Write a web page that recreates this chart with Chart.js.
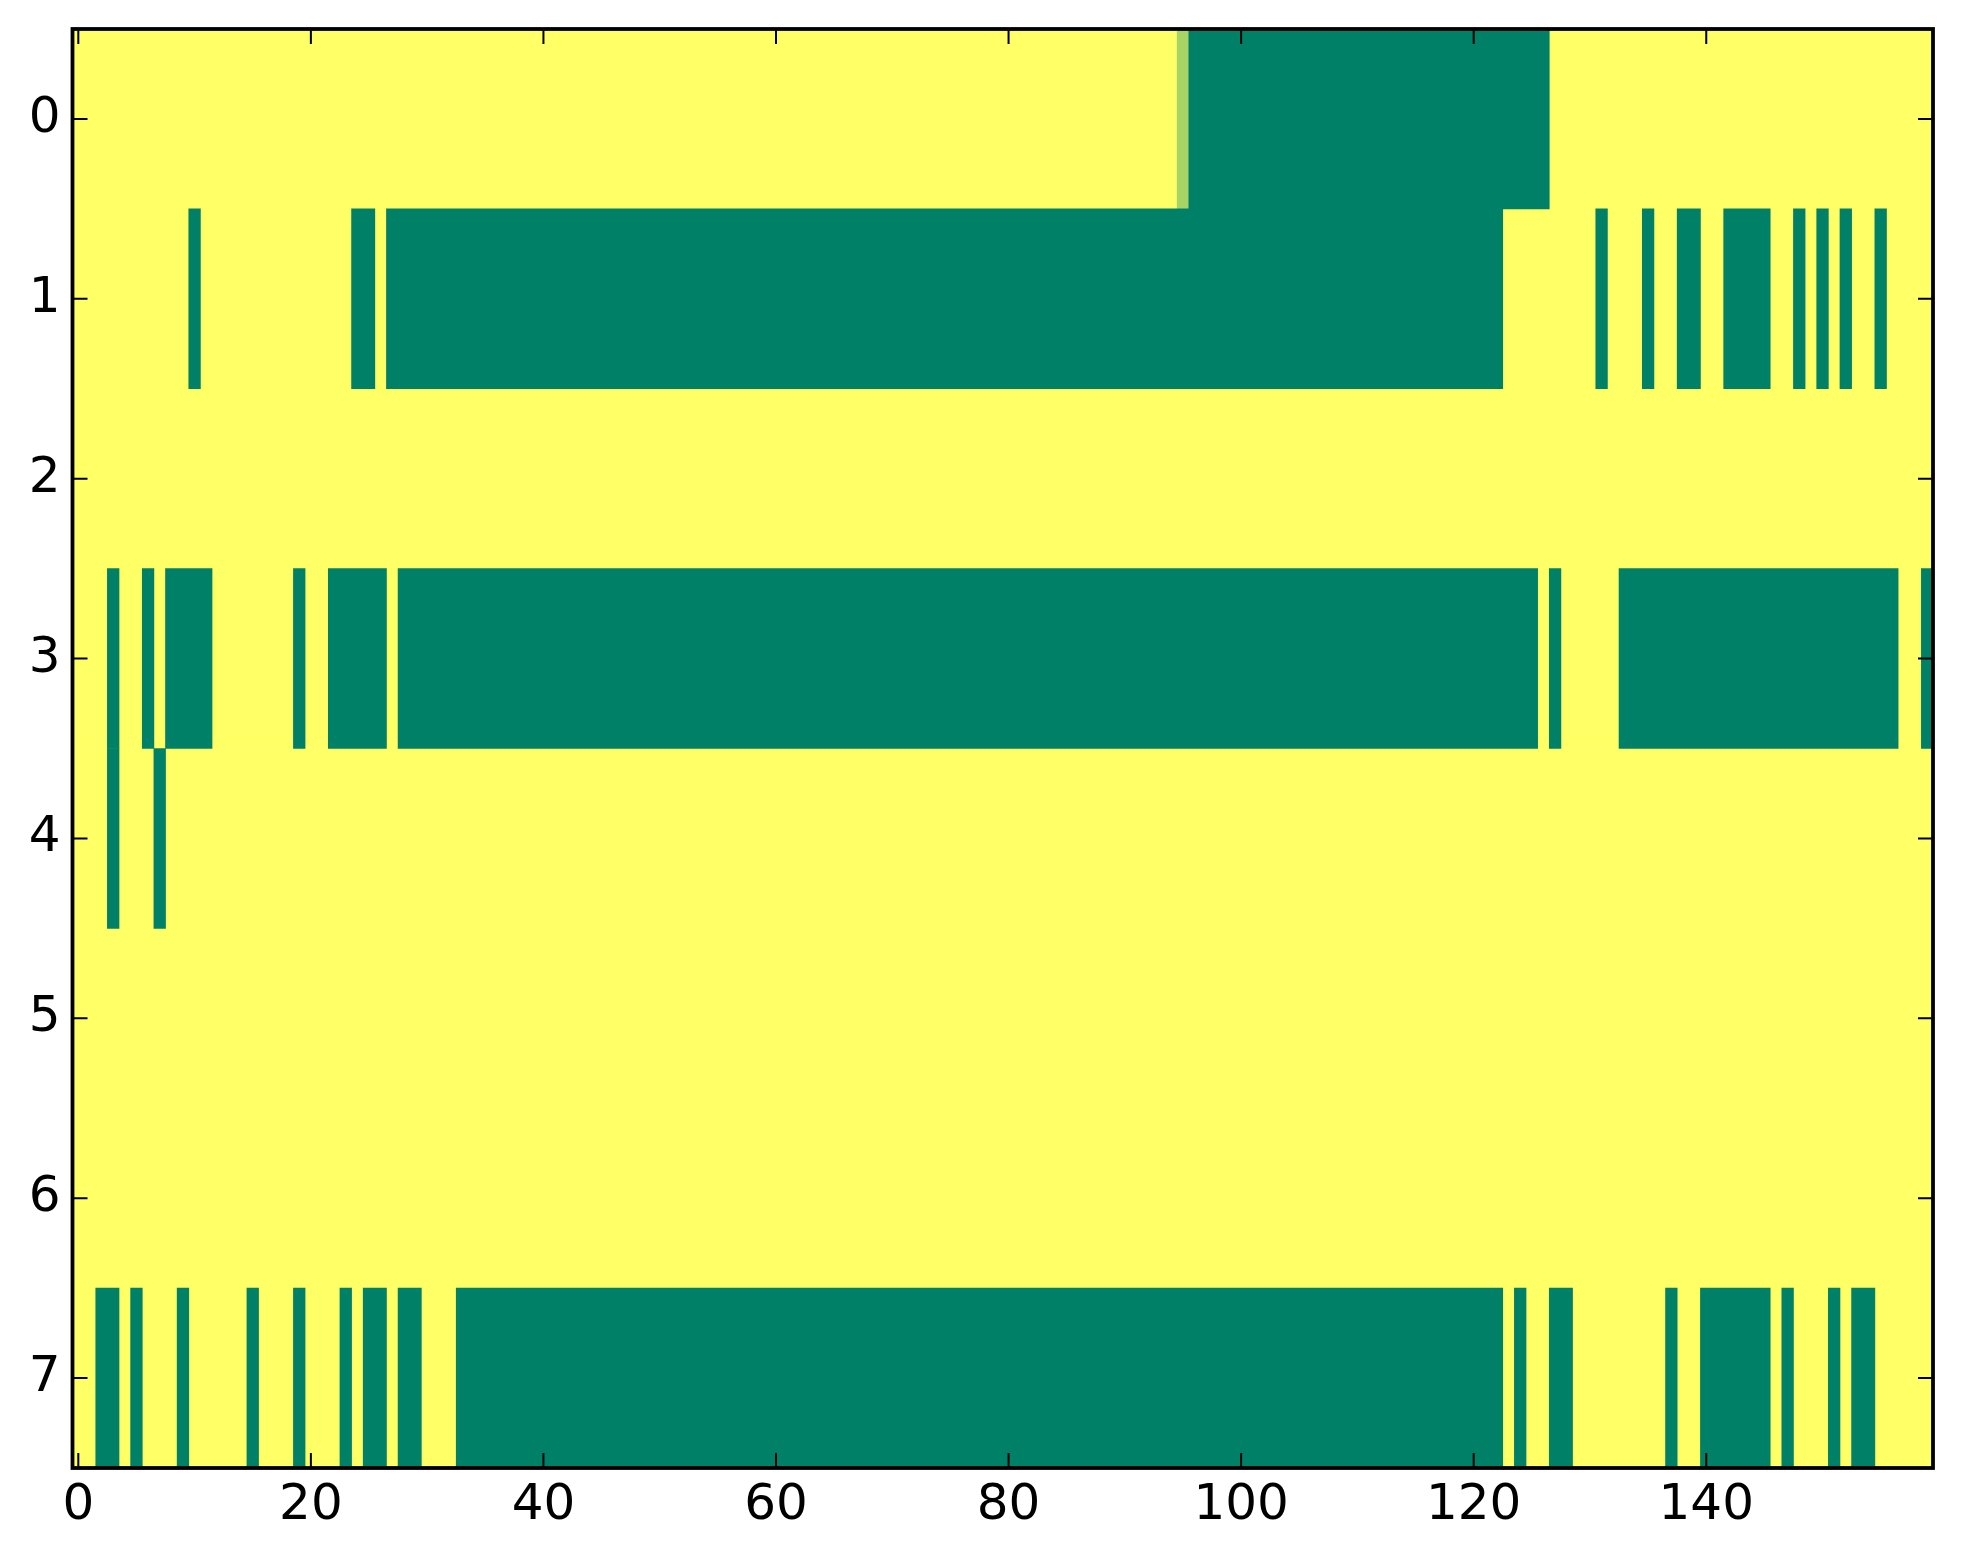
<!DOCTYPE html>
<html>
<head>
<meta charset="utf-8">
<script src="https://cdn.jsdelivr.net/npm/chart.js@4.4.1/dist/chart.umd.min.js"></script>
<style>
  html, body { margin: 0; padding: 0; background: #fff; }
  #wrap { width: 1963px; height: 1564px; }
</style>
</head>
<body>
<div id="wrap"><canvas id="myChart" width="1963" height="1564"></canvas></div>
<script>
// rows of the image and number of columns
const rowLabels = ['0', '1', '2', '3', '4', '5', '6', '7'];
const colCount = 160;
const xTicks = [0, 20, 40, 60, 80, 100, 120, 140];

// runs of low cells per row: [firstCol, lastCol, value]  (everything else = 1)
const row0Runs = [[95, 95, 0.66], [96, 126, 0]];
const row1Runs = [[10, 10, 0], [24, 25, 0], [27, 122, 0], [131, 131, 0], [135, 135, 0], [138, 139, 0], [142, 145, 0], [148, 148, 0], [150, 150, 0], [152, 152, 0], [155, 155, 0]];
const row2Runs = [];
const row3Runs = [[3, 3, 0], [6, 6, 0], [8, 11, 0], [19, 19, 0], [22, 26, 0], [28, 125, 0], [127, 127, 0], [133, 156, 0], [159, 159, 0]];
const row4Runs = [[3, 3, 0], [7, 7, 0]];
const row5Runs = [];
const row6Runs = [];
const row7Runs = [[2, 3, 0], [5, 5, 0], [9, 9, 0], [15, 15, 0], [19, 19, 0], [23, 23, 0], [25, 26, 0], [28, 29, 0], [33, 122, 0], [124, 124, 0], [127, 128, 0], [137, 137, 0], [140, 145, 0], [147, 147, 0], [151, 151, 0], [153, 154, 0]];

const allRuns = [row0Runs, row1Runs, row2Runs, row3Runs, row4Runs, row5Runs, row6Runs, row7Runs];

// matplotlib "summer" colormap
function summer(v) {
    var r = Math.round(255 * v);
    var g = Math.round(255 * (0.5 + 0.5 * v));
    return 'rgb(' + r + ',' + g + ',102)';
}

var baseData = rowLabels.map(function (lab) {
    return { y: lab, x: [-0.5, colCount - 0.5], v: 1 };
});

var runData = [];
allRuns.forEach(function (runs, i) {
    runs.forEach(function (r) {
        runData.push({ y: rowLabels[i], x: [r[0] - 0.5, r[1] + 0.5], v: r[2] });
    });
});

// inward ticks on all four sides + black frame
var frameTicks = {
    id: 'frameTicks',
    afterDraw: function (chart) {
        var c = chart.ctx, a = chart.chartArea;
        var xs = chart.scales.x, ys = chart.scales.y;
        var len = 15;
        c.save();
        c.strokeStyle = '#000';
        c.lineWidth = 2;
        c.beginPath();
        xTicks.forEach(function (t) {
            var px = xs.getPixelForValue(t);
            c.moveTo(px, a.bottom); c.lineTo(px, a.bottom - len);
            c.moveTo(px, a.top); c.lineTo(px, a.top + len);
        });
        rowLabels.forEach(function (lab, i) {
            var py = ys.getPixelForValue(i);
            c.moveTo(a.left, py); c.lineTo(a.left + len, py);
            c.moveTo(a.right, py); c.lineTo(a.right - len, py);
        });
        c.stroke();
        c.lineWidth = 3.8;
        c.strokeRect(a.left, a.top, a.right - a.left, a.bottom - a.top);
        c.restore();
    }
};

var ctx = document.getElementById('myChart');

var heatChart = new Chart(ctx, {
    type: 'bar',
    data: {
        labels: rowLabels,
        datasets: [{
            data: runData,
            backgroundColor: function (context) { return summer(context.raw.v); },
            grouped: false,
            order: 0,
            barPercentage: 1,
            categoryPercentage: 1,
            borderWidth: 0
        }, {
            data: baseData,
            backgroundColor: function (context) { return summer(context.raw.v); },
            grouped: false,
            order: 1,
            barPercentage: 1,
            categoryPercentage: 1,
            borderWidth: 0
        }]
    },
    options: {
        indexAxis: 'y',
        responsive: false,
        animation: false,
        devicePixelRatio: 1,
        layout: { padding: { left: 0, top: 29, right: 30, bottom: 0 } },
        plugins: {
            legend: { display: false },
            tooltip: { enabled: false }
        },
        scales: {
            x: {
                type: 'linear',
                min: -0.5,
                max: colCount - 0.5,
                afterBuildTicks: function (scale) {
                    scale.ticks = xTicks.map(function (v) { return { value: v }; });
                },
                afterFit: function (scale) {
                    scale.height = 96;
                    scale.paddingLeft = 0;
                    scale.paddingRight = 0;
                },
                grid: { display: false, drawTicks: false },
                border: { display: false },
                ticks: {
                    autoSkip: false,
                    maxRotation: 0,
                    padding: 8,
                    color: '#000',
                    font: { family: 'DejaVu Sans', size: 50 },
                    callback: function (v) { return String(v); }
                }
            },
            y: {
                type: 'category',
                offset: true,
                afterFit: function (scale) {
                    scale.width = 72.5;
                    scale.paddingTop = 0;
                    scale.paddingBottom = 0;
                },
                grid: { display: false, drawTicks: false },
                border: { display: false },
                ticks: {
                    padding: 12,
                    color: '#000',
                    font: { family: 'DejaVu Sans', size: 50 }
                }
            }
        }
    },
    plugins: [frameTicks]
});
</script>
</body>
</html>
